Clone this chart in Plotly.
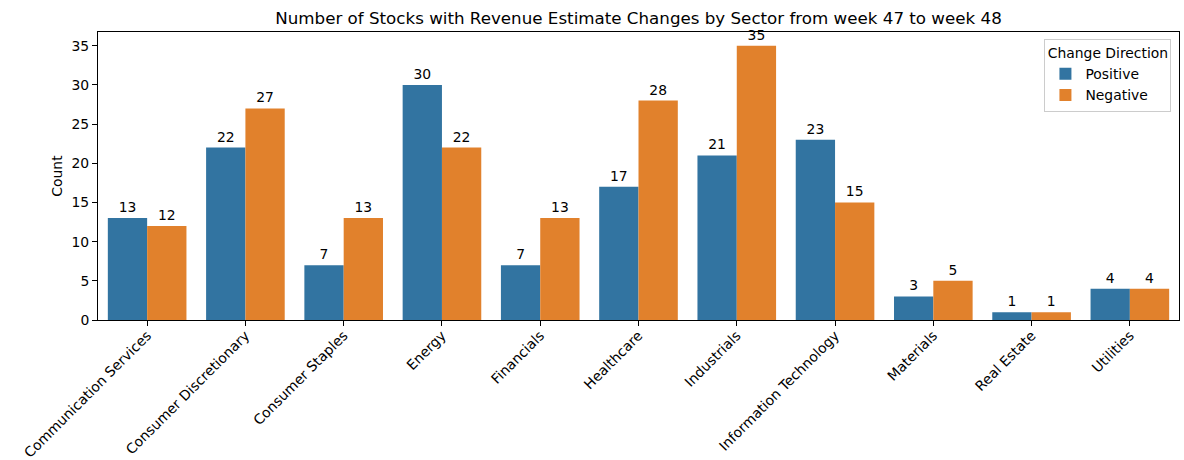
import plotly.graph_objects as go

sectors = ["Communication Services", "Consumer Discretionary", "Consumer Staples", "Energy",
           "Financials", "Healthcare", "Industrials", "Information Technology",
           "Materials", "Real Estate", "Utilities"]
positive = [13, 22, 7, 30, 7, 17, 21, 23, 3, 1, 4]
negative = [12, 27, 13, 22, 13, 28, 35, 15, 5, 1, 4]
series_names = ["Positive", "Negative"]
colors = ["#3274a1", "#e1812c"]

font = "DejaVu Sans"
fs = 13.9
fig = go.Figure()
for name, vals, col in zip(series_names, [positive, negative], colors):
    fig.add_trace(go.Bar(
        x=sectors, y=vals, name=name, marker=dict(color=col, line=dict(width=0)),
        text=[str(v) for v in vals], textposition="outside", constraintext="none",
        textfont=dict(family=font, size=fs, color="black"), cliponaxis=False,
    ))

fig.update_layout(
    width=1184, height=460,
    margin=dict(l=98, r=5, t=32, b=140, autoexpand=False),
    paper_bgcolor="white", plot_bgcolor="white",
    barmode="group", bargap=0.2, bargroupgap=0,
    font=dict(family=font, size=fs, color="black"),
    title=dict(text="Number of Stocks with Revenue Estimate Changes by Sector from week 47 to week 48",
               x=0.5, xref="paper", xanchor="center", y=1, yref="paper", yanchor="bottom",
               pad=dict(b=8), font=dict(family=font, size=16.7, color="black")),
    legend=dict(title=dict(text="Change Direction", side="top center", font=dict(family=font, size=fs)),
                x=0.993, y=0.975, xanchor="right", yanchor="top",
                bordercolor="#cccccc", borderwidth=1, tracegroupgap=0,
                bgcolor="rgba(255,255,255,0.8)", font=dict(family=font, size=fs)),
    showlegend=True,
)
fig.update_xaxes(showline=True, linecolor="black", linewidth=1, mirror=True,
                 ticks="outside", ticklen=5, tickcolor="black", tickangle=-45,
                 ticklabelstandoff=-4,
                 showgrid=False, range=[-0.5, 10.5], automargin=False,
                 tickfont=dict(family=font, size=fs))
fig.update_yaxes(showline=True, linecolor="black", linewidth=1, mirror=True,
                 ticks="outside", ticklen=5, tickcolor="black", showgrid=False,
                 range=[0, 36.75], dtick=5, zeroline=False, automargin=False,
                 tickfont=dict(family=font, size=fs),
                 title=dict(text="Count", standoff=5, font=dict(family=font, size=fs)))
fig.write_html("out.html", config={"displayModeBar": False},
               post_script="document.body.style.margin='0';document.body.style.overflow='hidden';")
